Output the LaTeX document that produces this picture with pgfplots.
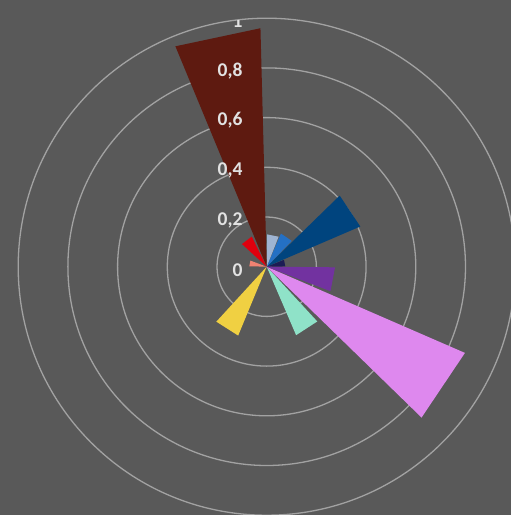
\documentclass[border=0pt]{standalone}
\usepackage{pgfplots}
\pgfplotsset{compat=1.18}
\usepgfplotslibrary{polar}
\usepackage{fontspec}
\setmainfont{Carlito}
\definecolor{bgc}{HTML}{595959}
\definecolor{gridc}{HTML}{A2A2A2}
\definecolor{labc}{HTML}{E2E2E2}
\definecolor{cDkNavy}{HTML}{1C1C55}
\definecolor{cNavy}{HTML}{00447E}
\definecolor{cMedBlue}{HTML}{2470C4}
\definecolor{cLtBlue}{HTML}{9FB4D2}
\definecolor{cBrown}{HTML}{5E1A10}
\definecolor{cRed}{HTML}{E0000E}
\definecolor{cSalmon}{HTML}{F08272}
\definecolor{cYellow}{HTML}{F0D042}
\definecolor{cTeal}{HTML}{8FE2C8}
\definecolor{cPink}{HTML}{DE88EE}
\definecolor{cPurple}{HTML}{7232A0}
\begin{document}
\begin{tikzpicture}[x=1pt,y=1pt]
\useasboundingbox (-266.7pt,-248.3pt) rectangle (244.3pt,266.7pt);
\fill[bgc] (-266.7pt,-248.3pt) rectangle (244.3pt,266.7pt);
\clip (-266.7pt,-248.3pt) rectangle (244.3pt,266.7pt);
\begin{polaraxis}[
  at={(0pt,0pt)}, anchor=center,
  scale only axis, width=497pt, height=497pt,
  xmin=0, xmax=360, ymin=0, ymax=1,
  xtick=\empty,
  ytick={0.2,0.4,0.6,0.8},
  yticklabels=\empty,
  major tick length=0pt,
  ymajorgrids=true,
  grid style={gridc, line width=1.3pt},
  axis line style={gridc, line width=1.3pt},
  y axis line style={draw=none},
]
\addplot[fill=cDkNavy, draw=none] coordinates {(0,0) (0.75,0.075) (21.75,0.075) (0,0)};
\addplot[fill=cNavy, draw=none] coordinates {(0,0) (23.25,0.41) (44.25,0.41) (0,0)};
\addplot[fill=cMedBlue, draw=none] coordinates {(0,0) (45.75,0.145) (66.75,0.145) (0,0)};
\addplot[fill=cLtBlue, draw=none] coordinates {(0,0) (68.25,0.13) (89.25,0.13) (0,0)};
\addplot[fill=cBrown, draw=none] coordinates {(0,0) (91.5,0.96) (112.5,0.96) (0,0)};
\addplot[fill=cRed, draw=none] coordinates {(0,0) (116.5,0.135) (137.5,0.135) (0,0)};
\addplot[fill=cSalmon, draw=none] coordinates {(0,0) (159.5,0.07) (178.5,0.07) (0,0)};
\addplot[fill=cYellow, draw=none] coordinates {(0,0) (227.5,0.30) (247.5,0.30) (0,0)};
\addplot[fill=cTeal, draw=none] coordinates {(0,0) (293.25,0.30) (312.75,0.30) (0,0)};
\addplot[fill=cPink, draw=none] coordinates {(0,0) (315.75,0.87) (336.5,0.87) (0,0)};
\addplot[fill=cPurple, draw=none] coordinates {(0,0) (339.0,0.275) (359.5,0.275) (0,0)};
\foreach \v/\t in {0/0,0.2/{0,2},0.4/{0,4},0.6/{0,6},0.8/{0,8},1/1}{
  \edef\temp{\noexpand\node[anchor=east, inner sep=0pt, xshift=-24pt, yshift=-3pt, text=labc, font=\noexpand\fontsize{19.5}{22}\noexpand\bfseries\noexpand\selectfont] at (axis cs:90,\v) {\t};}
  \temp
}
\end{polaraxis}
\end{tikzpicture}
\end{document}
